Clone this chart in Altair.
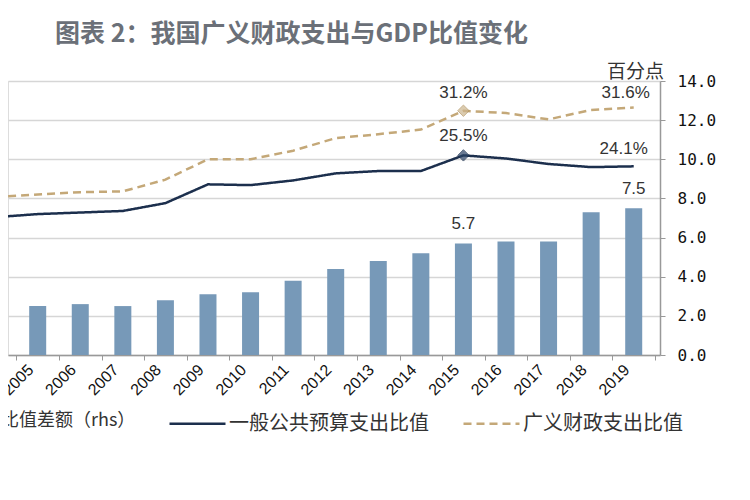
import altair as alt
import pandas as pd

years = [2004, 2005, 2006, 2007, 2008, 2009, 2010, 2011, 2012, 2013, 2014, 2015, 2016, 2017, 2018, 2019]
general = [17.6, 18.0, 18.2, 18.4, 19.4, 21.8, 21.7, 22.3, 23.2, 23.5, 23.5, 25.5, 25.1, 24.4, 24.0, 24.1]
broad = [20.2, 20.5, 20.8, 20.9, 22.4, 25.0, 25.0, 26.1, 27.7, 28.2, 28.8, 31.2, 30.9, 30.1, 31.3, 31.6]
diff = [2.6, 2.5, 2.6, 2.5, 2.8, 3.1, 3.2, 3.8, 4.4, 4.8, 5.2, 5.7, 5.8, 5.8, 7.3, 7.5]
tick_years = [2004.5 + i for i in range(16)]

bar_name = "比值差额（rhs）"
line_names = ["一般公共预算支出比值", "广义财政支出比值"]
bar_color = "#7799b8"
line_colors = ["#1c2f4d", "#c4a878"]

df = pd.DataFrame({"year": years, "general": general, "broad": broad, "diff": diff})
df["gl"] = df["general"].map(lambda v: f"{v:.1f}%")
df["bl"] = df["broad"].map(lambda v: f"{v:.1f}%")
df["dl"] = df["diff"].map(lambda v: f"{v:.1f}")

long_df = pd.concat([
    pd.DataFrame({"year": years, "value": general, "series": line_names[0]}),
    pd.DataFrame({"year": years, "value": broad, "series": line_names[1]}),
], ignore_index=True)

FONT = "Liberation Sans"
CJK = "Noto Sans CJK SC"

xscale = alt.Scale(domain=[2004.42, 2019.5], nice=False, zero=False)
xaxis = alt.Axis(values=tick_years, labelExpr="datum.value > 2019 ? '' : toString(datum.value + 0.5)",
                 labelAngle=-45, labelAlign="right", labelBaseline="middle", labelOffset=14,
                 labelPadding=7, labelFont=FONT, labelFontSize=16, labelColor="#111",
                 tickSize=5, tickColor="#999", domainColor="#999", domainWidth=1.5,
                 grid=False, title=None)
X = alt.X("year:Q", scale=xscale, axis=xaxis)

ly = alt.Scale(domain=[0, 35], nice=False, zero=True)
ry = alt.Scale(domain=[0, 14], nice=False, zero=True)

bar_legend = alt.Legend(
    orient="none", legendX=-30, legendY=331, title=None,
    labelFont=CJK, labelFontSize=18, labelColor="#333", labelLimit=400, labelOffset=5,
    symbolSize=150, symbolType="square")

line_legend = alt.Legend(
    orient="none", legendX=160, legendY=313, direction="horizontal", title=None,
    labelFont=CJK, labelFontSize=20, labelColor="#333", labelLimit=400, labelOffset=2,
    symbolSize=3136, symbolType="stroke", columnPadding=29, symbolStrokeWidth=2.5)

base = alt.Chart(df)

bars = base.mark_bar(width=17, clip=True).encode(
    x=X,
    y=alt.Y("diff:Q", scale=ry, axis=alt.Axis(
        orient="right", values=[0, 2, 4, 6, 8, 10, 12, 14], format=".1f",
        labelFont="DejaVu Sans Mono", labelFontSize=16, labelColor="#111", labelPadding=12,
        tickSize=5, tickColor="#999", domainColor="#999", domainWidth=1.5,
        grid=True, gridColor="#d6d6d6", gridWidth=1.5,
        title="百分点", titleAngle=0, titleAlign="center", titleBaseline="middle",
        titleX=-25, titleY=-10, titleFont=CJK, titleFontSize=19, titleFontWeight="normal",
        titleColor="#333")),
    color=alt.Color("name:N", scale=alt.Scale(domain=[bar_name], range=[bar_color]), legend=bar_legend),
).transform_calculate(name=f"'{bar_name}'")

lines = alt.Chart(long_df).mark_line(strokeWidth=2.5, clip=True).encode(
    x=X, y=alt.Y("value:Q", scale=ly, axis=None),
    stroke=alt.Stroke("series:N", scale=alt.Scale(domain=line_names, range=line_colors),
                      legend=line_legend),
    strokeDash=alt.StrokeDash("series:N", scale=alt.Scale(domain=line_names, range=[[1, 0], [8, 5]]),
                              legend=line_legend),
)

pt_g = base.mark_point(shape="diamond", filled=True, size=130, fill="#2a4366",
                       stroke="#1c2f4d", strokeWidth=1).encode(
    x=X, y=alt.Y("general:Q", scale=ly, axis=None)
).transform_filter("datum.year == 2015")
pt_b = base.mark_point(shape="diamond", filled=True, size=130, fill="#cdb68e",
                       stroke="#b0935f", strokeWidth=1).encode(
    x=X, y=alt.Y("broad:Q", scale=ly, axis=None)
).transform_filter("datum.year == 2015")

txt = dict(font=FONT, fontSize=17, color="#333", baseline="bottom", align="center")
t_b15 = base.mark_text(dy=-9, **txt).encode(
    x=X, y=alt.Y("broad:Q", scale=ly, axis=None), text="bl:N").transform_filter("datum.year == 2015")
t_g15 = base.mark_text(dy=-10, **txt).encode(
    x=X, y=alt.Y("general:Q", scale=ly, axis=None), text="gl:N").transform_filter("datum.year == 2015")
t_b19 = base.mark_text(dy=-6, dx=-8, **txt).encode(
    x=X, y=alt.Y("broad:Q", scale=ly, axis=None), text="bl:N").transform_filter("datum.year == 2019")
t_g19 = base.mark_text(dy=-8, dx=-10, **txt).encode(
    x=X, y=alt.Y("general:Q", scale=ly, axis=None), text="gl:N").transform_filter("datum.year == 2019")
t_d = base.mark_text(dy=-10, **txt).encode(
    x=X, y=alt.Y("diff:Q", scale=ry, axis=None), text="dl:N"
).transform_filter("datum.year == 2015 || datum.year == 2019")

chart = alt.layer(
    bars, lines, pt_b, pt_g, t_b15, t_g15, t_b19, t_g19, t_d
).resolve_scale(y="independent").properties(
    width=652, height=274,
    autosize=alt.AutoSizeParams(type="none"),
    padding={"left": 0, "top": 73, "right": 82, "bottom": 137},
    title=alt.TitleParams("图表 2：我国广义财政支出与GDP比值变化", anchor="start", frame="group",
                          dx=47, offset=15, font=CJK, fontSize=25, fontWeight="bold", color="#6b7078"),
).configure_view(stroke=None).configure(background="white")

chart.save("out.html", embed_options={"renderer": "svg", "actions": False})
